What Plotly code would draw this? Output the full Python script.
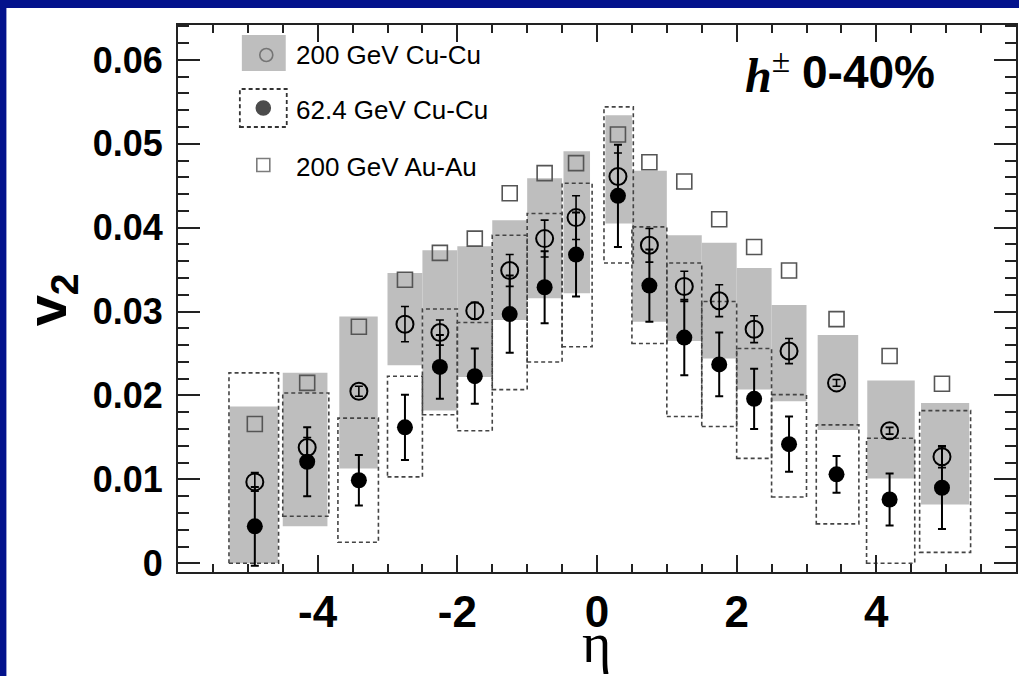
import plotly.graph_objects as go

# pseudorapidity bin centres
eta = [-4.90, -4.15, -3.41, -2.75, -2.25, -1.75, -1.25, -0.75, -0.30,
       0.30, 0.75, 1.25, 1.75, 2.25, 2.75, 3.43, 4.19, 4.94]

# 200 GeV Cu-Cu (open circles): v2, stat. error, systematic band
v2_cu200 = [0.0097, 0.0138, 0.0205, 0.0285, 0.0275, 0.0301, 0.0349, 0.0387, 0.0412,
            0.0461, 0.0379, 0.0330, 0.0313, 0.0279, 0.0253, 0.0215, 0.0158, 0.0127]
err_cu200 = [0.0011, 0.0012, 0.0006, 0.0021, 0.0015, 0.0010, 0.0019, 0.0022, 0.0026,
             0.0028, 0.0020, 0.0018, 0.0019, 0.0016, 0.0015, 0.0004, 0.0004, 0.0013]
sys_lo_cu200 = [0.0000, 0.0044, 0.0113, 0.0236, 0.0182, 0.0222, 0.0290, 0.0316, 0.0322,
                0.0405, 0.0288, 0.0265, 0.0244, 0.0207, 0.0193, 0.0159, 0.0101, 0.0070]
sys_hi_cu200 = [0.0187, 0.0227, 0.0294, 0.0346, 0.0373, 0.0378, 0.0409, 0.0459, 0.0491,
                0.0534, 0.0468, 0.0391, 0.0382, 0.0352, 0.0308, 0.0272, 0.0218, 0.0191]
eta_lo_cu200 = [-5.26, -4.50, -3.69, -3.00, -2.50, -2.00, -1.50, -1.00, -0.48,
                0.12, 0.50, 1.00, 1.50, 2.00, 2.50, 3.16, 3.87, 4.64]
eta_hi_cu200 = [-4.57, -3.86, -3.14, -2.50, -2.00, -1.50, -1.00, -0.50, -0.10,
                0.50, 1.00, 1.50, 2.00, 2.50, 3.00, 3.74, 4.55, 5.33]

# 62.4 GeV Cu-Cu (filled circles)
v2_cu62 = [0.0044, 0.0121, 0.0099, 0.0162, 0.0234, 0.0223, 0.0297, 0.0329, 0.0368,
           0.0438, 0.0331, 0.0269, 0.0237, 0.0196, 0.0142, 0.0106, 0.0076, 0.0090]
err_cu62 = [0.0047, 0.0041, 0.0030, 0.0039, 0.0038, 0.0033, 0.0046, 0.0043, 0.0050,
            0.0061, 0.0043, 0.0045, 0.0038, 0.0036, 0.0033, 0.0022, 0.0031, 0.0049]
sys_lo_cu62 = [0.0000, 0.0056, 0.0025, 0.0103, 0.0177, 0.0158, 0.0207, 0.0240, 0.0258,
               0.0358, 0.0262, 0.0175, 0.0163, 0.0125, 0.0079, 0.0047, 0.0000, 0.0013]
sys_hi_cu62 = [0.0227, 0.0203, 0.0173, 0.0223, 0.0303, 0.0287, 0.0391, 0.0417, 0.0453,
               0.0544, 0.0401, 0.0358, 0.0312, 0.0256, 0.0201, 0.0165, 0.0149, 0.0182]
eta_lo_cu62 = [-5.27, -4.50, -3.71, -3.00, -2.50, -2.00, -1.50, -1.00, -0.50,
               0.10, 0.50, 1.00, 1.50, 2.00, 2.50, 3.14, 3.86, 4.62]
eta_hi_cu62 = [-4.56, -3.84, -3.13, -2.50, -2.00, -1.50, -1.00, -0.50, -0.07,
               0.52, 1.00, 1.50, 2.00, 2.50, 3.00, 3.75, 4.55, 5.35]

# 200 GeV Au-Au (open squares)
v2_au200 = [0.0166, 0.0215, 0.0282, 0.0338, 0.0370, 0.0387, 0.0441, 0.0465, 0.0477,
            0.0511, 0.0478, 0.0455, 0.0410, 0.0377, 0.0349, 0.0291, 0.0247, 0.0214]

y_tick_vals = [0, 0.01, 0.02, 0.03, 0.04, 0.05, 0.06]
y_tick_text = ["0", "0.01", "0.02", "0.03", "0.04", "0.05", "0.06"]
x_tick_vals = [-4, -2, 0, 2, 4]
x_tick_text = ["-4", "-2", "0", "2", "4"]

legend_labels = ["200 GeV Cu-Cu", "62.4 GeV Cu-Cu", "200 GeV Au-Au"]

# ---------------------------------------------------------------- layout helpers
W, H = 1019, 676
L, R, T, B = 178, 1, 25, 104
PW, PH = W - L - R, H - T - B


def fx(px):
    """page pixel x -> paper fraction"""
    return (px - L) / PW


def fy(py):
    """page pixel y -> paper fraction"""
    return (H - B - py) / PH


SANS = "Liberation Sans"
SERIF = "Liberation Serif"
BLUE = "#03128C"
GREY = "#bebebe"

fig = go.Figure()

shapes = []
# slide-style blue frame on the left and top
shapes.append(dict(type="rect", xref="paper", yref="paper",
                   x0=fx(-5), x1=fx(6), y0=fy(H + 5), y1=fy(-5),
                   fillcolor=BLUE, line_width=0, layer="below"))
shapes.append(dict(type="rect", xref="paper", yref="paper",
                   x0=fx(-5), x1=fx(W + 5), y0=fy(8), y1=fy(-5),
                   fillcolor=BLUE, line_width=0, layer="below"))

# systematic bands, 200 GeV Cu-Cu (grey filled)
for lo, hi, a, b in zip(eta_lo_cu200, eta_hi_cu200, sys_lo_cu200, sys_hi_cu200):
    shapes.append(dict(type="rect", xref="x", yref="y", x0=lo, x1=hi, y0=a, y1=b,
                       fillcolor=GREY, line_width=0, layer="below"))
# systematic bands, 62.4 GeV Cu-Cu (dashed outline)
for lo, hi, a, b in zip(eta_lo_cu62, eta_hi_cu62, sys_lo_cu62, sys_hi_cu62):
    shapes.append(dict(type="rect", xref="x", yref="y", x0=lo, x1=hi, y0=a, y1=b,
                       fillcolor="rgba(0,0,0,0)",
                       line=dict(color="#444", width=1.6, dash="4px,3px"),
                       layer="below"))

# legend swatches (drawn beneath the legend markers)
shapes.append(dict(type="rect", xref="paper", yref="paper",
                   x0=fx(242), x1=fx(286), y0=fy(71), y1=fy(35),
                   fillcolor=GREY, line_width=0, layer="below"))
shapes.append(dict(type="rect", xref="paper", yref="paper",
                   x0=fx(240), x1=fx(287), y0=fy(127), y1=fy(89),
                   fillcolor="rgba(0,0,0,0)",
                   line=dict(color="#333", width=1.8, dash="4px,3px"), layer="below"))

# data points
fig.add_trace(go.Scatter(
    x=eta, y=v2_au200, mode="markers",
    marker=dict(symbol="square-open", size=15, color="#555", line=dict(width=1.6)),
    name=legend_labels[2], showlegend=False))
fig.add_trace(go.Scatter(
    x=eta, y=v2_cu200, mode="markers",
    marker=dict(symbol="circle-open", size=17, color="black", line=dict(width=2)),
    error_y=dict(type="data", array=err_cu200, color="black", thickness=1.6, width=4),
    name=legend_labels[0], showlegend=False))
fig.add_trace(go.Scatter(
    x=eta, y=v2_cu62, mode="markers",
    marker=dict(symbol="circle", size=16, color="black"),
    error_y=dict(type="data", array=err_cu62, color="black", thickness=2, width=4),
    name=legend_labels[1], showlegend=False))

# legend markers on an overlay axis spanning the plot area [0, 1]
fig.add_trace(go.Scatter(
    x=[fx(266.5), fx(263.5), fx(263.5)], y=[fy(55), fy(108), fy(165)],
    xaxis="x2", yaxis="y2", mode="markers",
    marker=dict(symbol=["circle-open", "circle", "square-open"], size=[13, 14, 13],
                color=["#555", "black", "#444"],
                line=dict(width=1.6, color=["#555", "black", "#444"])),
    showlegend=False, hoverinfo="skip"))

annotations = []
for label, py in zip(legend_labels, [55, 110, 166.5]):
    annotations.append(dict(x=fx(294), y=fy(py), xref="paper", yref="paper",
                            text=label, showarrow=False, xanchor="left", yanchor="middle",
                            font=dict(family=SANS, size=26, color="black")))
# centrality / particle label
annotations.append(dict(x=fx(744), y=fy(72), xref="paper", yref="paper",
                        text="<b><i>h</i></b><sup>±</sup>", showarrow=False,
                        xanchor="left", yanchor="middle",
                        font=dict(family=SERIF, size=48, color="black")))
annotations.append(dict(x=fx(801), y=fy(72), xref="paper", yref="paper",
                        text="<b>0-40%</b>", showarrow=False,
                        xanchor="left", yanchor="middle",
                        font=dict(family=SANS, size=46, color="black")))
# axis titles
annotations.append(dict(x=fx(50), y=fy(300), xref="paper", yref="paper",
                        text="<b>v<sub>2</sub></b>", textangle=-90, showarrow=False,
                        xanchor="center", yanchor="middle",
                        font=dict(family=SANS, size=56, color="black")))
annotations.append(dict(x=fx(597), y=fy(643), xref="paper", yref="paper",
                        text="η", showarrow=False, xanchor="center", yanchor="middle",
                        font=dict(family=SERIF, size=56, color="black")))

axis_line = dict(showline=True, linecolor="#222", linewidth=2, mirror="allticks",
                 ticks="inside", tickcolor="#222", tickwidth=2, showgrid=False,
                 zeroline=False)

fig.update_layout(
    width=W, height=H,
    margin=dict(l=L, r=R, t=T, b=B, pad=0),
    paper_bgcolor="white", plot_bgcolor="rgba(0,0,0,0)",
    shapes=shapes, annotations=annotations,
    xaxis=dict(range=[-6, 6], tickvals=x_tick_vals, ticktext=x_tick_text, ticklen=17,
               tickfont=dict(family=SANS, size=44, color="black", weight="bold"),
               minor=dict(dtick=0.5, ticks="inside", ticklen=8, tickwidth=1.6,
                          tickcolor="#222", showgrid=False),
               **axis_line),
    yaxis=dict(range=[-0.00104, 0.06416], tickvals=y_tick_vals, ticktext=y_tick_text,
               ticklen=22, ticklabelstandoff=6,
               tickfont=dict(family=SANS, size=36, color="black", weight="bold"),
               minor=dict(dtick=0.002, ticks="inside", ticklen=11, tickwidth=1.6,
                          tickcolor="#222", showgrid=False),
               **axis_line),
    xaxis2=dict(range=[0, 1], overlaying="x", visible=False, fixedrange=True),
    yaxis2=dict(range=[0, 1], overlaying="y", visible=False, fixedrange=True),
    showlegend=False,
)

fig.write_html("out.html")
